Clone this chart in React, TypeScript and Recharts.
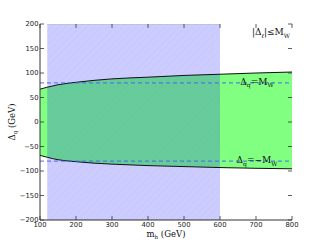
import React from "react";
import {
  ComposedChart,
  Area,
  Line,
  XAxis,
  YAxis,
  ReferenceLine,
} from "recharts";

const mh = [100, 120, 150, 200, 250, 300, 400, 500, 600, 700, 800];
const upper = [67, 71, 76, 81, 85, 88, 91.5, 95, 97.5, 100, 102];
const lower = [-68, -72, -77, -81, -84, -86, -89, -91, -93, -94.5, -95.5];
const blueRange = [120, 600];
const blueLimits = [-200, 200];
const mwLines = [80, -80];
const xTicks = [100, 200, 300, 400, 500, 600, 700, 800];
const yTicks = [-200, -150, -100, -50, 0, 50, 100, 150, 200];

const data = mh.map((m, i) => ({
  mh: m,
  band: [lower[i], upper[i]],
  upper: upper[i],
  lower: lower[i],
  blue: m >= blueRange[0] && m <= blueRange[1] ? blueLimits : null,
}));

const W = 325;
const H = 245;
const M = { top: 24, right: 33, left: 0, bottom: 0 };
const YW = 40;
const XH = 25;
const PLOT_L = M.left + YW;
const PLOT_W = W - M.right - PLOT_L;
const PLOT_T = M.top;
const PLOT_H = H - M.bottom - XH - PLOT_T;
const TICK = 4;
const AX = "#333";
const tickFont = "'DejaVu Sans', sans-serif";
const serif = "'DejaVu Serif', serif";

const fmt = (v: number) => (v < 0 ? "\u2212" + Math.abs(v) : String(v));

const YTick = (props: any) => {
  const y = props.y;
  return (
    <g>
      <line x1={PLOT_L} x2={PLOT_L + TICK} y1={y} y2={y} stroke={AX} strokeWidth={0.8} />
      <line x1={PLOT_L + PLOT_W - TICK} x2={PLOT_L + PLOT_W} y1={y} y2={y} stroke={AX} strokeWidth={0.8} />
      <text x={PLOT_L - 1.5} y={y} dy="0.35em" textAnchor="end" fontSize={6.8} fontFamily={tickFont} fill="#222">
        {fmt(props.payload.value)}
      </text>
    </g>
  );
};

const XTick = (props: any) => {
  const x = props.x;
  const bottom = PLOT_T + PLOT_H;
  return (
    <g>
      <line x1={x} x2={x} y1={bottom} y2={bottom - TICK} stroke={AX} strokeWidth={0.8} />
      <line x1={x} x2={x} y1={PLOT_T} y2={PLOT_T + TICK} stroke={AX} strokeWidth={0.8} />
      <text x={x} y={bottom + 5} dy="0.35em" textAnchor="middle" fontSize={6.8} fontFamily={tickFont} fill="#222">
        {fmt(props.payload.value)}
      </text>
    </g>
  );
};

const mwLabel = (neg: boolean) => (props: any) => {
  const vb = props.viewBox || {};
  const cx = PLOT_L + PLOT_W - 35;
  const y = vb.y + 2;
  return (
    <text x={cx} y={y} textAnchor="middle" fontSize={9} fontFamily={serif} fill="#111">
      <tspan>Δ</tspan>
      <tspan fontSize={6} dy={2.5}>q</tspan>
      <tspan dy={-2.5}>{neg ? "=\u2212M" : "=M"}</tspan>
      <tspan fontSize={6} dy={2.5}>W</tspan>
    </text>
  );
};

const topLabel = () => (
  <text x={PLOT_L + PLOT_W - 2} y={PLOT_T + 11} textAnchor="end" fontSize={9} fontFamily={serif} fill="#111">
    <tspan>|Δ</tspan>
    <tspan fontSize={6} dy={2.5} fontStyle="italic">ℓ</tspan>
    <tspan dy={-2.5}>|≤M</tspan>
    <tspan fontSize={6} dy={2.5}>W</tspan>
  </text>
);

export default function App() {
  return (
    <div style={{ position: "absolute", left: 0, top: 0, width: W, height: H, background: "#fff" }}>
      <ComposedChart width={W} height={H} data={data} margin={M}>
        <defs>
          <pattern id="hatch" width="5" height="5" patternUnits="userSpaceOnUse" patternTransform="rotate(45)">
            <line x1="0" y1="0" x2="0" y2="5" stroke="#8080e0" strokeWidth="0.6" strokeOpacity="0.35" />
          </pattern>
        </defs>
        <XAxis
          dataKey="mh"
          type="number"
          domain={[100, 800]}
          ticks={xTicks}
          height={XH}
          tickLine={false}
          tickSize={0}
          axisLine={{ stroke: AX }}
          tick={<XTick />}
          interval={0}
          allowDataOverflow
        />
        <XAxis
          xAxisId="top"
          orientation="top"
          dataKey="mh"
          type="number"
          domain={[100, 800]}
          height={0}
          tick={false}
          tickLine={false}
          axisLine={{ stroke: AX }}
        />
        <YAxis
          type="number"
          domain={[-200, 200]}
          ticks={yTicks}
          width={YW}
          tickLine={false}
          tickSize={0}
          axisLine={{ stroke: AX }}
          tick={<YTick />}
          interval={0}
          allowDataOverflow
        />
        <YAxis
          yAxisId="right"
          orientation="right"
          type="number"
          domain={[-200, 200]}
          width={0}
          tick={false}
          tickLine={false}
          axisLine={{ stroke: AX }}
        />
        <Area
          dataKey="band"
          type="monotone"
          fill="#80ff80"
          fillOpacity={1}
          stroke="none"
          isAnimationActive={false}
        />
        <Area
          dataKey="blue"
          type="linear"
          fill="#0000ff"
          fillOpacity={0.2}
          stroke="#b8b8c8"
          strokeWidth={1}
          connectNulls={false}
          isAnimationActive={false}
        />
        <Area
          dataKey="blue"
          type="linear"
          fill="url(#hatch)"
          stroke="none"
          connectNulls={false}
          isAnimationActive={false}
        />
        <Line dataKey="upper" type="monotone" stroke="#111" strokeWidth={1} dot={false} isAnimationActive={false} />
        <Line dataKey="lower" type="monotone" stroke="#111" strokeWidth={1} dot={false} isAnimationActive={false} />
        <ReferenceLine
          y={mwLines[0]}
          stroke="#4060f0"
          strokeOpacity={0.75}
          strokeWidth={1.3}
          strokeDasharray="4 3"
          label={{ content: mwLabel(false) }}
        />
        <ReferenceLine
          y={mwLines[1]}
          stroke="#4060f0"
          strokeOpacity={0.75}
          strokeWidth={1.3}
          strokeDasharray="4 3"
          label={{ content: mwLabel(true) }}
        />
        <ReferenceLine y={200} stroke="none" label={{ content: topLabel }} />
      </ComposedChart>
      <div
        style={{
          position: "absolute",
          left: 0,
          top: 0,
          width: W,
          height: H,
          pointerEvents: "none",
        }}
      >
        <svg width={W} height={H}>
          <text
            x={PLOT_L + PLOT_W / 2}
            y={237}
            textAnchor="middle"
            fontSize={8.5}
            fontFamily={serif}
            fill="#111"
          >
            <tspan>m</tspan>
            <tspan fontSize={5.5} dy={2}>h</tspan>
            <tspan dy={-2}> (GeV)</tspan>
          </text>
          <text
            transform={`translate(15, ${PLOT_T + PLOT_H / 2}) rotate(-90)`}
            textAnchor="middle"
            fontSize={8.5}
            fontFamily={serif}
            fill="#111"
          >
            <tspan>Δ</tspan>
            <tspan fontSize={5.5} dy={2}>q</tspan>
            <tspan dy={-2}> (GeV)</tspan>
          </text>
        </svg>
      </div>
    </div>
  );
}
